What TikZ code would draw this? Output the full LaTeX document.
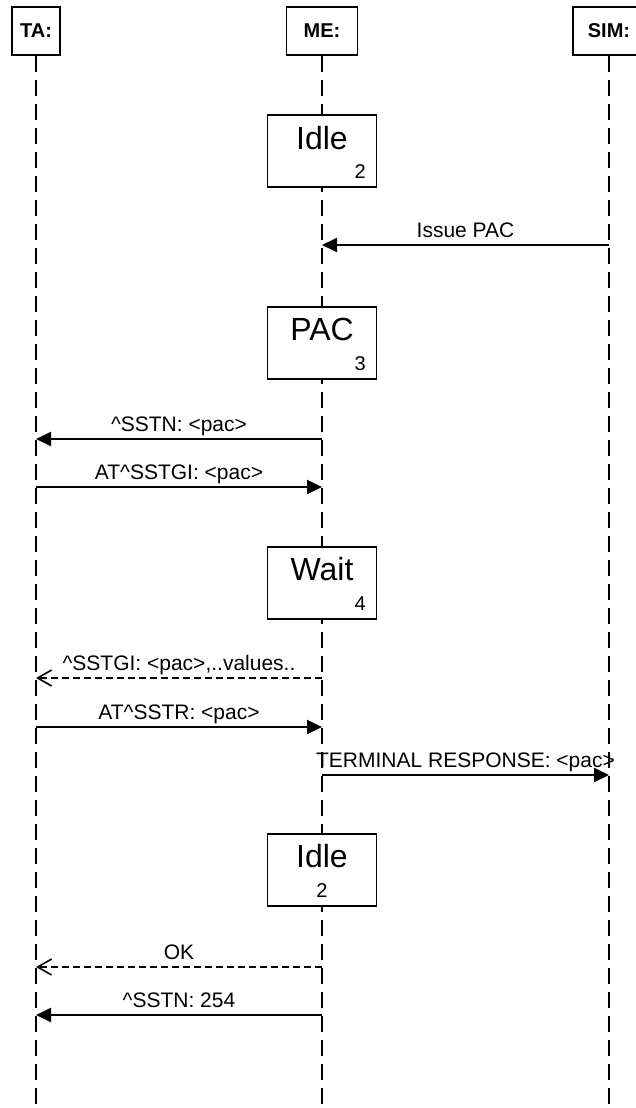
\documentclass[tikz,border=0pt]{standalone}
\usepackage{fontspec}
\setmainfont{Liberation Sans}
\usetikzlibrary{arrows.meta}
\begin{document}
\begin{tikzpicture}[x=1pt,y=-1pt,
  head/.style={draw, line width=1.3pt, fill=white, minimum height=48pt, inner sep=0pt,
    font=\fontsize{20}{24}\selectfont\bfseries},
  life/.style={line width=1.4pt, dash pattern=on 16pt off 8pt},
  state/.style={draw, line width=1.4pt, fill=white, minimum width=109pt,
    minimum height=72pt, inner sep=0pt},
  big/.style={font=\fontsize{32}{36}\selectfont, inner sep=0pt, anchor=base},
  num/.style={font=\fontsize{20}{24}\selectfont, inner sep=0pt, anchor=base east},
  numc/.style={font=\fontsize{20}{24}\selectfont, inner sep=0pt, anchor=base},
  msg/.style={line width=2pt, -{Triangle[length=15pt,width=14pt]}},
  reply/.style={line width=1.6pt, dash pattern=on 7pt off 4pt,
    -{Straight Barb[length=14pt,width=16pt,line width=1.6pt]}},
  lbl/.style={font=\fontsize{21}{25}\selectfont, inner sep=0pt, anchor=base}]
\useasboundingbox (0,0) rectangle (636,1108);

% instance heads
\node[head, minimum width=48pt] (hTA)  at (36,31)  {TA:};
\node[head, minimum width=71pt] (hME)  at (322,31) {ME:};
\node[head, minimum width=72pt] (hSIM) at (609,31) {SIM:};

% lifelines
\coordinate (eTA)  at (36,1112);
\coordinate (eME)  at (322,1112);
\coordinate (eSIM) at (609,1112);
\draw[life] (hTA.south)  -- (eTA);
\draw[life] (hME.south)  -- (eME);
\draw[life] (hSIM.south) -- (eSIM);

% states of the ME
\node[state] (s1) at (322,151) {};
\node[big] (s1t) at (322,149) {Idle};
\node[num] (s1n) at (366,178) {2};

\node[state] (s2) at (322,343) {};
\node[big] (s2t) at (322,340) {PAC};
\node[num] (s2n) at (366,370) {3};

\node[state] (s3) at (322,583) {};
\node[big] (s3t) at (322,580) {Wait};
\node[num] (s3n) at (366,610) {4};

\node[state] (s4) at (322,870) {};
\node[big] (s4t) at (322,867) {Idle};
\node[numc] (s4n) at (322,897) {2};

% message anchors on the lifelines
\coordinate (m1a) at (609,245);  \coordinate (m1b) at (322,245);
\coordinate (m2a) at (322,439);  \coordinate (m2b) at (36,439);
\coordinate (m3a) at (36,487);   \coordinate (m3b) at (322,487);
\coordinate (m4a) at (322,678);  \coordinate (m4b) at (36,678);
\coordinate (m5a) at (36,727);   \coordinate (m5b) at (322,727);
\coordinate (m6a) at (322,775);  \coordinate (m6b) at (609,775);
\coordinate (m7a) at (322,967);  \coordinate (m7b) at (36,967);
\coordinate (m8a) at (322,1015); \coordinate (m8b) at (36,1015);

% messages
\draw[msg]   (m1a) -- (m1b);
\node[lbl] (l1) at (465.5,237.5) {Issue PAC};
\draw[msg]   (m2a) -- (m2b);
\node[lbl] (l2) at (179,431.5) {\textasciicircum SSTN: <pac>};
\draw[msg]   (m3a) -- (m3b);
\node[lbl] (l3) at (179,479.5) {AT\textasciicircum SSTGI: <pac>};
\draw[reply] (m4a) -- (m4b);
\node[lbl] (l4) at (179,670.5) {\textasciicircum SSTGI: <pac>,..values..};
\draw[msg]   (m5a) -- (m5b);
\node[lbl] (l5) at (179,719.5) {AT\textasciicircum SSTR: <pac>};
\draw[msg]   (m6a) -- (m6b);
\node[lbl] (l6) at (465.5,767.5) {TERMINAL RESPONSE: <pac>};
\draw[reply] (m7a) -- (m7b);
\node[lbl] (l7) at (179,959.5) {OK};
\draw[msg]   (m8a) -- (m8b);
\node[lbl] (l8) at (179,1007.5) {\textasciicircum SSTN: 254};
\end{tikzpicture}
\end{document}
